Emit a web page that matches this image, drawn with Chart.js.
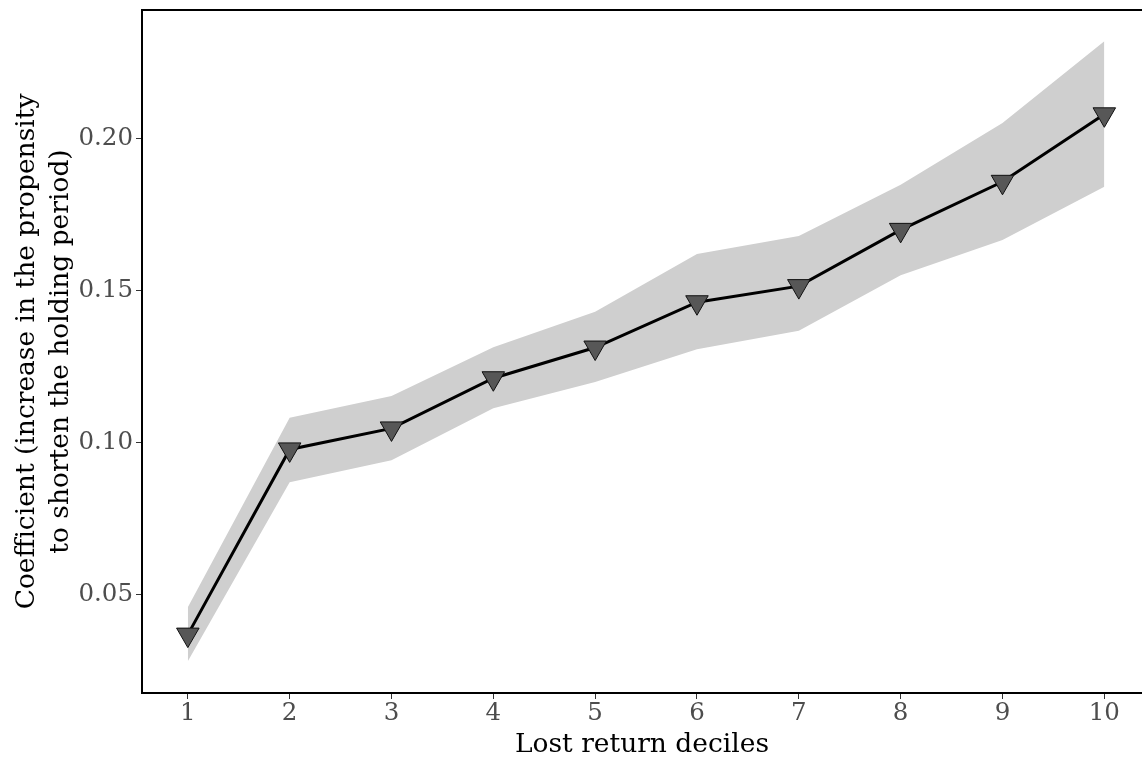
<!DOCTYPE html>
<html>
<head>
<meta charset="utf-8">
<script src="https://cdn.jsdelivr.net/npm/chart.js@4"></script>
<style>
  body { margin: 0; background: #fff; overflow: hidden; }
  canvas { display: block; }
</style>
</head>
<body>
<canvas id="chart" width="1142" height="758"></canvas>
<script>
// lost return deciles
const deciles = [1, 2, 3, 4, 5, 6, 7, 8, 9, 10];
const coefficient = [0.0368, 0.0977, 0.1046, 0.1211, 0.1312, 0.1461, 0.1514, 0.1699, 0.1857, 0.2079];
const ciUpper = [0.0458, 0.1081, 0.1153, 0.1313, 0.1430, 0.1620, 0.1679, 0.1847, 0.2050, 0.2319];
const ciLower = [0.0280, 0.0869, 0.0941, 0.1112, 0.1199, 0.1306, 0.1367, 0.1550, 0.1666, 0.1841];
const xTicks = [1, 2, 3, 4, 5, 6, 7, 8, 9, 10];
const yTicks = [0.05, 0.10, 0.15, 0.20];

const serif = "'DejaVu Serif', serif";

const toPoints = (ys) => deciles.map((d, i) => ({ x: d, y: ys[i] }));

// top frame line, like the ggplot panel
const topLine = {
    id: 'topLine',
    afterDraw(chart) {
        const { ctx, chartArea } = chart;
        ctx.save();
        ctx.strokeStyle = '#000';
        ctx.lineWidth = 2;
        ctx.beginPath();
        ctx.moveTo(chartArea.left - 1, chartArea.top);
        ctx.lineTo(chartArea.right, chartArea.top);
        ctx.stroke();
        ctx.restore();
    }
};

const ctx = document.getElementById('chart').getContext('2d');
new Chart(ctx, {
    type: 'line',
    data: {
        datasets: [
            {
                data: toPoints(coefficient),
                order: 0,
                clip: false,
                borderColor: '#000',
                borderWidth: 3,
                fill: false,
                tension: 0,
                pointStyle: 'triangle',
                rotation: 180,
                pointRadius: 13,
                pointBackgroundColor: '#575757',
                pointBorderColor: '#111',
                pointBorderWidth: 1
            },
            { data: toPoints(ciUpper), order: 1, borderWidth: 0, pointRadius: 0, backgroundColor: '#cfcfcf', fill: '+1' },
            { data: toPoints(ciLower), order: 2, borderWidth: 0, pointRadius: 0, backgroundColor: '#cfcfcf', fill: false }
        ]
    },
    options: {
        responsive: false,
        animation: false,
        layout: { autoPadding: false, padding: { top: 10, right: 0, left: 0, bottom: 0 } },
        plugins: { legend: { display: false }, tooltip: { enabled: false } },
        scales: {
            x: {
                type: 'linear',
                min: 0.55,
                max: 10.37,
                afterBuildTicks: (s) => { s.ticks = xTicks.map(v => ({ value: v })); },
                afterFit: (s) => { s.height = 65; s.paddingLeft = 0; s.paddingRight = 0; },
                grid: { drawOnChartArea: false, tickLength: 6, tickColor: '#333', tickWidth: 1 },
                border: { color: '#000', width: 2 },
                ticks: { color: '#4d4d4d', font: { family: serif, size: 24.5 }, padding: 0, maxRotation: 0 },
                title: {
                    display: true,
                    text: 'Lost return deciles',
                    color: '#000',
                    font: { family: serif, size: 26.5, lineHeight: 1.0 },
                    padding: 0
                }
            },
            y: {
                min: 0.0176,
                max: 0.2422,
                afterBuildTicks: (s) => { s.ticks = yTicks.map(v => ({ value: v })); },
                afterFit: (s) => { s.width = 142; s.paddingTop = 0; s.paddingBottom = 0; },
                grid: { drawOnChartArea: false, tickLength: 6, tickColor: '#333', tickWidth: 1 },
                border: { color: '#000', width: 2 },
                ticks: {
                    color: '#4d4d4d',
                    font: { family: serif, size: 24.5 },
                    padding: 3,
                    callback: (v) => v.toFixed(2)
                },
                title: {
                    display: true,
                    text: ['Coefficient (increase in the propensity', 'to shorten the holding period)'],
                    color: '#000',
                    font: { family: serif, size: 26.5, lineHeight: 1.28 },
                    padding: { top: 10, bottom: 0 }
                }
            }
        }
    },
    plugins: [topLine]
});
</script>
</body>
</html>
